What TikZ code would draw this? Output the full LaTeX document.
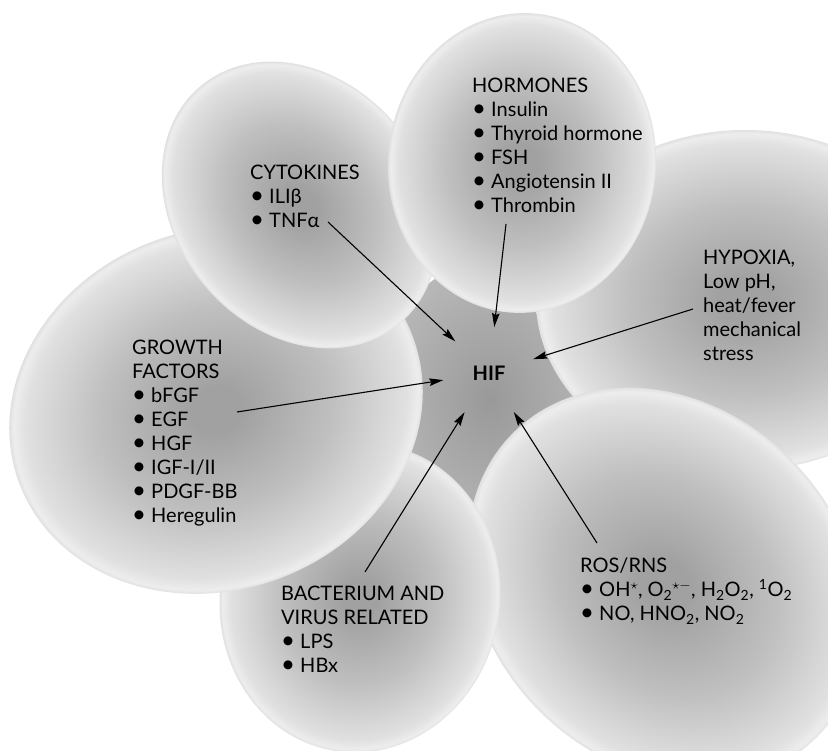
\documentclass[tikz,border=0pt]{standalone}
\usepackage{fontspec}
\setmainfont{Lato}
\usetikzlibrary{arrows.meta}
\definecolor{blobcore}{gray}{0.63}
\definecolor{blobmid}{gray}{0.75}
\definecolor{blobedge}{gray}{0.88}
\definecolor{blobrim}{gray}{0.93}
\definecolor{hubcore}{gray}{0.60}
\definecolor{hubedge}{gray}{0.72}
% the middle 25bp of a shading is what lands inside the path
\pgfdeclareradialshading{blob}{\pgfpoint{0bp}{0bp}}{color(0bp)=(blobcore); color(3bp)=(blobcore); color(14bp)=(blobmid); color(23bp)=(blobedge); color(24.5bp)=(blobrim); color(25bp)=(blobedge); color(50bp)=(blobedge)}
\pgfdeclareradialshading{hub}{\pgfpoint{0bp}{0bp}}{color(0bp)=(hubcore); color(25bp)=(hubedge); color(50bp)=(hubedge)}
\newcommand\dotitem{\scalebox{1.2}{\textbullet}\ }

\begin{document}
\begin{tikzpicture}[x=1pt,y=-1pt,
  bubble/.style={shading=blob},
  txt/.style={anchor=north west,inner sep=0pt,align=left,font=\fontsize{20}{24}\selectfont},
  feed/.style={-{Stealth[length=14pt,width=7.5pt,inset=2pt]},line width=1.1pt}]
  \useasboundingbox (0,0) rectangle (828,751);
  \fill[white] (0,0) rectangle (828,751);
  \clip (0,0) rectangle (828,751);

  % dark middle
  \shade[shading=hub] (490,400) ellipse [x radius=110,y radius=140];

  % the bubbles, back to front
  \shade[bubble] (745,300) ellipse [x radius=209,y radius=170];
  \shade[bubble,transform canvas={rotate around={-45:(665,585)}}] (665,585) ellipse [x radius=215,y radius=178];
  \shade[bubble,transform canvas={rotate around={-10:(360,598)}}] (360,598) ellipse [x radius=140,y radius=155];
  \shade[bubble,transform canvas={rotate around={20:(216,410)}}] (216,410) ellipse [x radius=210,y radius=180];
  \shade[bubble,transform canvas={rotate around={-50:(300,205)}}] (300,205) ellipse [x radius=155,y radius=125];
  \shade[bubble,transform canvas={rotate around={-5:(522,163)}}] (522,163) ellipse [x radius=134,y radius=150];

  \node[circle,minimum size=92pt,inner sep=0pt,font=\fontsize{20}{24}\selectfont\bfseries] (hif) at (489,373) {HIF};

  \node[txt] (cyto) at (250,165) {CYTOKINES\\\dotitem ILIβ\\\dotitem TNFα};
  \node[txt] (horm) at (472,78) {HORMONES\\\dotitem Insulin\\\dotitem Thyroid hormone\\\dotitem FSH\\\dotitem Angiotensin II\\\dotitem Thrombin};
  \node[txt] (hypo) at (703,250) {HYPOXIA,\\Low pH,\\heat/fever\\mechanical\\stress};
  \node[txt] (grow) at (132,340) {GROWTH\\FACTORS\\\dotitem bFGF\\\dotitem EGF\\\dotitem HGF\\\dotitem IGF-I/II\\\dotitem PDGF-BB\\\dotitem Heregulin};
  \node[txt] (bact) at (281,586) {BACTERIUM AND\\VIRUS RELATED\\\dotitem LPS\\\dotitem HBx};
  \node[txt] (ros) at (580,558) {ROS/RNS\\\dotitem OH\textsuperscript{$\star$}, O\textsubscript{2}\textsuperscript{$\star{-}$}, H\textsubscript{2}O\textsubscript{2}, \textsuperscript{1}O\textsubscript{2}\\\dotitem NO, HNO\textsubscript{2}, NO\textsubscript{2}};

  % arrow tails
  \coordinate (cytoOut) at (328,222);
  \coordinate (hormOut) at (506,224);
  \coordinate (hypoOut) at (693,309);
  \coordinate (growOut) at (237,412);
  \coordinate (bactOut) at (365,572);
  \coordinate (rosOut) at (597,543);

  \draw[feed] (cytoOut) -- (hif);
  \draw[feed] (hormOut) -- (hif);
  \draw[feed] (hypoOut) -- (hif);
  \draw[feed] (growOut) -- (hif);
  \draw[feed] (bactOut) -- (hif);
  \draw[feed] (rosOut) -- (hif);
\end{tikzpicture}
\end{document}
